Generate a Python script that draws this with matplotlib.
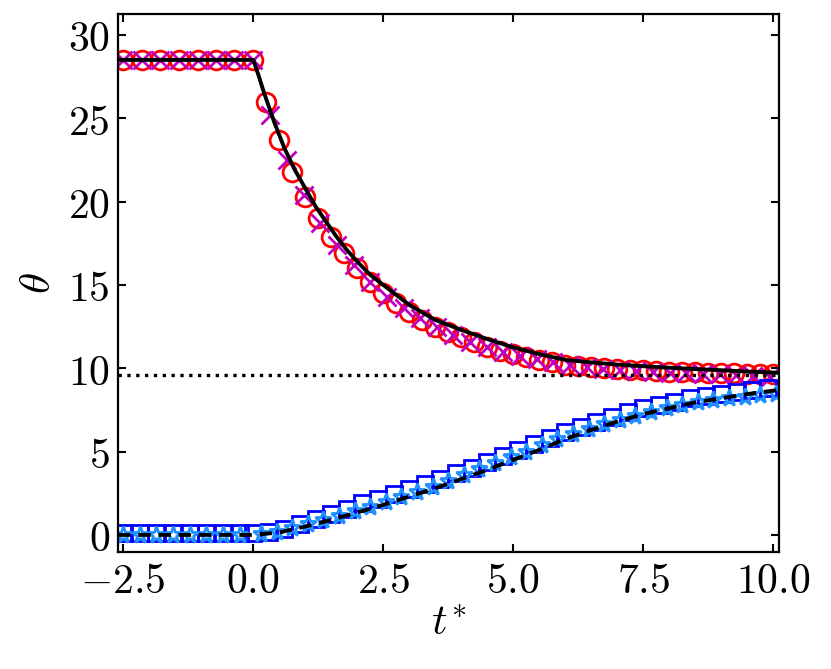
import matplotlib
matplotlib.use("Agg")
import matplotlib.pyplot as plt
import numpy as np
from matplotlib.ticker import FuncFormatter

# ---- data ----
# hot side: model (solid black) and two marker sets
t_model_hot = [-2.6, 0.0, 0.1, 0.2, 0.3, 0.4, 0.5, 0.6, 0.8, 1.0, 1.2, 1.4, 1.6,
               1.8, 2.0, 2.25, 2.5, 2.75, 3.0, 3.5, 4.0, 4.5, 5.0, 5.5, 6.0, 6.5,
               7.0, 7.5, 8.0, 8.5, 9.0, 9.5, 10.11]
theta_model_hot = [28.5, 28.5, 27.6, 26.6, 25.7, 24.8, 24.0, 23.2, 21.9, 20.8,
                   19.7, 18.8, 17.9, 17.1, 16.4, 15.6, 15.0, 14.4, 13.8, 12.9,
                   12.3, 11.75, 11.25, 10.85, 10.5, 10.35, 10.22, 10.12, 10.03,
                   9.95, 9.88, 9.8, 9.73]

t_circle = [-2.5, -2.14, -1.79, -1.43, -1.07, -0.71, -0.36, 0.0,
            0.25, 0.5, 0.75, 1.0, 1.25, 1.5, 1.75, 2.0, 2.25, 2.5, 2.75, 3.0,
            3.25, 3.5, 3.75, 4.0, 4.25, 4.5, 4.75, 5.0, 5.25, 5.5, 5.75, 6.0,
            6.25, 6.5, 6.75, 7.0, 7.25, 7.5, 7.75, 8.0, 8.25, 8.5, 8.75, 9.0,
            9.25, 9.5, 9.75, 10.0]
theta_circle = [28.5, 28.5, 28.5, 28.5, 28.5, 28.5, 28.5, 28.5,
                26.0, 23.7, 21.8, 20.3, 19.0, 17.9, 16.9, 16.0, 15.2, 14.5,
                13.9, 13.35, 12.9, 12.5, 12.15, 11.85, 11.55, 11.3, 11.05,
                10.85, 10.65, 10.5, 10.35, 10.2, 10.12, 10.05, 10.0, 9.95,
                9.91, 9.87, 9.83, 9.8, 9.77, 9.75, 9.72, 9.7, 9.69, 9.68, 9.68,
                9.68]

t_cross = [-2.5, -2.14, -1.79, -1.43, -1.07, -0.71, -0.36, 0.0,
           0.33, 0.65, 0.97, 1.29, 1.61, 1.93, 2.25, 2.57, 2.89, 3.21, 3.53,
           3.85, 4.17, 4.49, 4.81, 5.13, 5.45, 5.77, 6.09, 6.41, 6.73, 7.05,
           7.37, 7.69, 8.01, 8.33, 8.65, 8.97, 9.29, 9.61, 9.93]
theta_cross = [28.5, 28.5, 28.5, 28.5, 28.5, 28.5, 28.5, 28.5,
               25.2, 22.5, 20.4, 18.7, 17.4, 16.2, 15.2, 14.3, 13.6, 13.0,
               12.45, 12.0, 11.6, 11.3, 11.0, 10.75, 10.55, 10.35, 10.2, 10.05,
               9.95, 9.88, 9.82, 9.77, 9.73, 9.7, 9.67, 9.64, 9.6, 9.55, 9.45]

# cold side: model (dashed black) and two marker sets
t_model_cold = [-2.6, 0.0, 0.5, 1.0, 1.5, 2.0, 2.5, 3.0, 3.5, 4.0, 4.5, 5.0,
                5.5, 6.0, 6.5, 7.0, 7.5, 8.0, 8.5, 9.0, 9.5, 10.11]
theta_model_cold = [0.0, 0.0, 0.15, 0.5, 0.9, 1.35, 1.8, 2.3, 2.8, 3.35, 3.9,
                    4.5, 5.1, 5.75, 6.3, 6.8, 7.25, 7.6, 7.95, 8.2, 8.45, 8.7]

t_square = [-2.5, -2.18, -1.86, -1.54, -1.22, -0.9, -0.58, -0.26,
            0.0, 0.3, 0.6, 0.9, 1.2, 1.5, 1.8, 2.1, 2.4, 2.7, 3.0, 3.3, 3.6,
            3.9, 4.2, 4.5, 4.8, 5.1, 5.4, 5.7, 6.0, 6.3, 6.6, 6.9, 7.2, 7.5,
            7.8, 8.1, 8.4, 8.7, 9.0, 9.3, 9.6, 9.9]
theta_square = [0.1, 0.1, 0.1, 0.1, 0.1, 0.1, 0.1, 0.1,
                0.1, 0.2, 0.38, 0.67, 0.96, 1.25, 1.55, 1.89, 2.16, 2.45,
                2.75, 3.05, 3.36, 3.69, 4.02, 4.35, 4.71, 5.07, 5.43, 5.81,
                6.18, 6.5, 6.8, 7.08, 7.35, 7.6, 7.8, 8.0, 8.2, 8.35, 8.48,
                8.6, 8.7, 8.8]

t_star = [-2.5, -2.18, -1.86, -1.54, -1.22, -0.9, -0.58, -0.26,
          0.15, 0.45, 0.75, 1.05, 1.35, 1.65, 1.95, 2.25, 2.55, 2.85, 3.15,
          3.45, 3.75, 4.05, 4.35, 4.65, 4.95, 5.25, 5.55, 5.85, 6.15, 6.45,
          6.75, 7.05, 7.35, 7.65, 7.95, 8.25, 8.55, 8.85, 9.15, 9.45, 9.75,
          10.05]
theta_star = [0.0, 0.0, 0.0, 0.0, 0.0, 0.0, 0.0, 0.0,
              0.05, 0.2, 0.4, 0.65, 0.9, 1.15, 1.45, 1.7, 2.0, 2.3, 2.6, 2.9,
              3.25, 3.6, 3.95, 4.3, 4.65, 5.0, 5.4, 5.75, 6.05, 6.35, 6.65,
              6.9, 7.15, 7.4, 7.6, 7.8, 7.95, 8.1, 8.2, 8.3, 8.4, 8.45]

theta_eq = 9.6

x_ticks = [-2.5, 0.0, 2.5, 5.0, 7.5, 10.0]
y_ticks = [0, 5, 10, 15, 20, 25, 30]


def main() -> None:
    plt.rcParams["mathtext.fontset"] = "cm"
    plt.rcParams["font.family"] = "DejaVu Serif"
    fig, ax = plt.subplots(figsize=(8.31, 6.69), dpi=100)
    fig.subplots_adjust(left=0.142, right=0.9374, top=0.979, bottom=0.175)

    ax.plot(t_circle, theta_circle, "o", mfc="none", mec="red", ms=13.5, mew=2.0)
    ax.plot(t_cross, theta_cross, "x", color="#BF00BF", ms=12.5, mew=2.0)
    ax.plot(t_square, theta_square, "s", mfc="none", mec="blue", ms=12, mew=2.0)
    ax.plot(t_star, theta_star, "*", mfc="none", mec="dodgerblue", ms=12.5, mew=2.0)

    ax.plot(t_model_hot, theta_model_hot, "-", color="black", lw=2.8)
    ax.plot(t_model_cold, theta_model_cold, "--", color="black", lw=2.8,
            dashes=(3.2, 2.0))
    ax.axhline(theta_eq, color="black", ls=":", lw=2.4)

    ax.set_xlim(-2.6, 10.11)
    ax.set_ylim(-1.02, 31.25)
    ax.set_xticks(x_ticks)
    ax.set_yticks(y_ticks)
    ax.xaxis.set_major_formatter(FuncFormatter(lambda v, p: rf"${v:.1f}$"))
    ax.yaxis.set_major_formatter(FuncFormatter(lambda v, p: rf"${v:.0f}$"))
    ax.tick_params(direction="in", top=True, right=True, length=6, width=1.5,
                   labelsize=30, pad=6)
    for s in ax.spines.values():
        s.set_linewidth(1.6)

    ax.set_xlabel(r"$t^{*}$", fontsize=31, labelpad=0)
    ax.set_ylabel(r"$\theta$", fontsize=31, labelpad=6)

    fig.savefig("out.png", dpi=100)
    plt.close(fig)


if __name__ == "__main__":
    main()
